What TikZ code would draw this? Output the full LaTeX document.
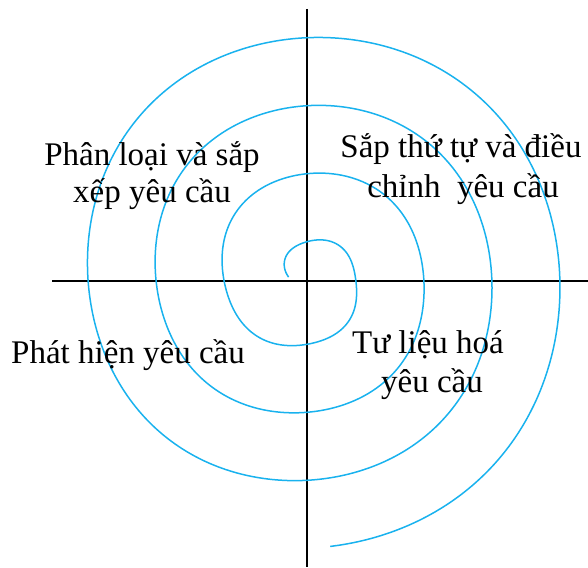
\documentclass[tikz,border=0pt]{standalone}
\usepackage{fontspec}
\setmainfont{Liberation Serif}
\definecolor{spiralblue}{RGB}{25,178,238}
\begin{document}
\begin{tikzpicture}[x=1pt,y=-1pt,
  axisline/.style={draw=black,line width=1.3pt},
  spiralline/.style={draw=spiralblue,line width=1.5pt},
  lbl/.style={anchor=base,inner sep=0pt,font=\fontsize{33}{38}\selectfont},
  declare function={rr(\t)=-16.4+(\t/90)*17-5*sin(\t)-1.2*cos(2*\t)-1.5*cos(4*\t);}]
\useasboundingbox (0,0) rectangle (588,567);
% axes
\coordinate (vtop) at (307,9);
\coordinate (vbot) at (307,567);
\coordinate (hleft) at (52,281);
\coordinate (hright) at (588,281);
\draw[axisline] (vtop) -- (vbot);
\draw[axisline] (hleft) -- (hright);
% spiral
\draw[spiralline] plot[domain=192:1525,samples=600,smooth]
  ({307+rr(\x)*cos(\x)},{281+rr(\x)*sin(\x)});
% labels
\node[lbl] (q1a) at (152,165) {Phân loại và sắp};
\node[lbl] (q1b) at (152,202) {xếp yêu cầu};
\node[lbl] (q2a) at (461,157) {Sắp thứ tự và điều};
\node[lbl] (q2b) at (463,197) {chỉnh\ \ yêu cầu};
\node[lbl] (q3) at (128,363) {Phát hiện yêu cầu};
\node[lbl] (q4a) at (428,353) {Tư liệu hoá};
\node[lbl] (q4b) at (432,392) {yêu cầu};
\end{tikzpicture}
\end{document}
